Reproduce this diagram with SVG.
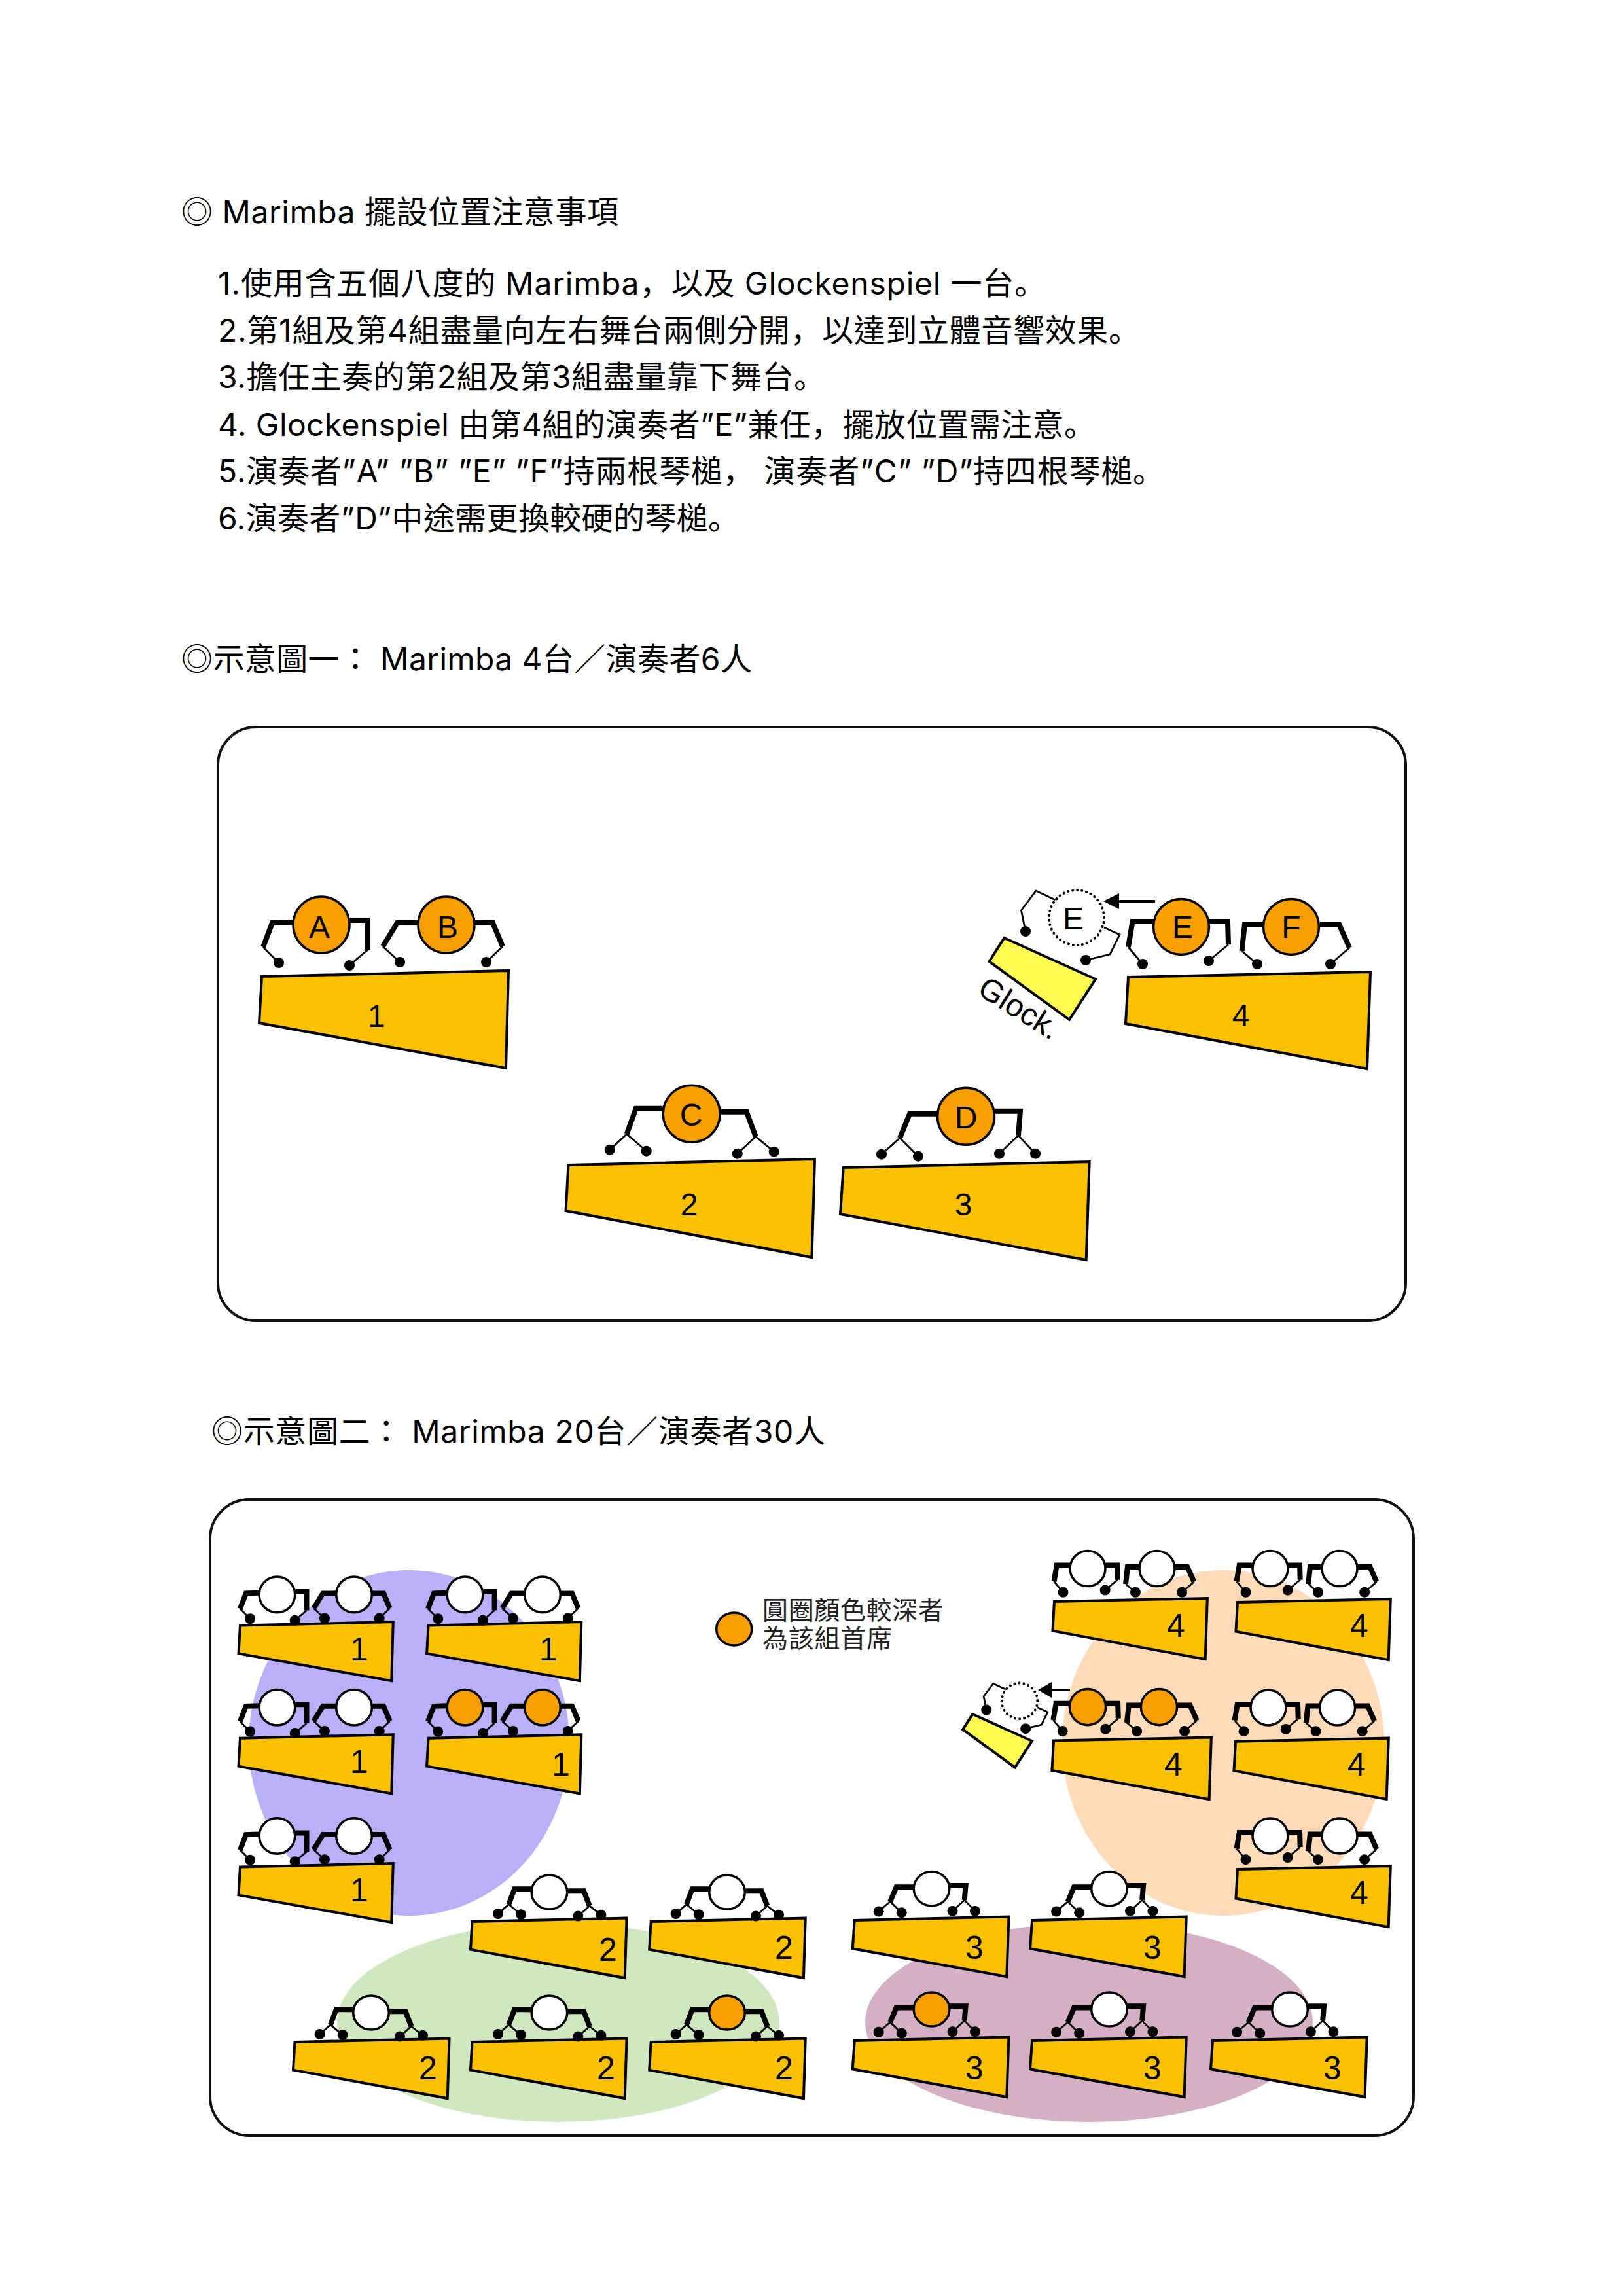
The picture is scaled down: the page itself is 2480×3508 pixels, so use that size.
<svg xmlns="http://www.w3.org/2000/svg" width="2480" height="3508" viewBox="0 0 2480 3508">
<style>
.t{font-family:Inter,"Noto Sans CJK TC",sans-serif;font-size:48px;fill:#000}
.j{font-family:"Noto Sans CJK JP",sans-serif}
.lg{font-family:"Noto Sans CJK TC",sans-serif;font-size:39px;fill:#222}
.n{font-family:"Liberation Sans",Arial,sans-serif;font-size:50px;fill:#000;text-anchor:middle}
.frame{fill:none;stroke:#111;stroke-width:4}
.mar{fill:#FAC002;stroke:#000;stroke-width:4;stroke-linejoin:miter;vector-effect:non-scaling-stroke}
.glk{fill:#FDFB50;stroke:#000;stroke-width:4;vector-effect:non-scaling-stroke}
.head{stroke:#000;stroke-width:3.5;vector-effect:non-scaling-stroke}
.thick{fill:none;stroke:#000;stroke-width:8;stroke-linejoin:miter;vector-effect:non-scaling-stroke}
.thin{fill:none;stroke:#000;stroke-width:2.8;vector-effect:non-scaling-stroke}
.dot{fill:none;stroke:#000;stroke-width:16;stroke-linecap:round;vector-effect:non-scaling-stroke}
.dotc{fill:#fff;stroke:#000;stroke-width:4;stroke-dasharray:0.1 7;stroke-linecap:round;vector-effect:non-scaling-stroke}
.w{fill:#fff}
.o{fill:#F79F00}
.arr{fill:none;stroke:#000;stroke-width:4}
</style>
<defs>
<marker id="ah" markerUnits="userSpaceOnUse" markerWidth="24" markerHeight="26" refX="1" refY="13" orient="auto" viewBox="0 0 24 26"><path d="M24,1 L0,13 L24,25 Z" transform="rotate(180 12 13)" fill="#000"/></marker>
<marker id="ahs" markerUnits="userSpaceOnUse" markerWidth="21" markerHeight="24" refX="1" refY="12" orient="auto" viewBox="0 0 21 24"><path d="M21,0 L0,12 L21,24 Z" transform="rotate(180 10.5 12)" fill="#000"/></marker>
<polygon id="m1" class="mar" points="0,0 377,-9 373,140 -4,71"/>
<polygon id="m4" class="mar" points="0,0 370,-8 365,140 -4,71"/>
<polygon id="m2" class="mar" points="0,0 376.5,-9 372,141 -4,70"/>
<polygon id="m3" class="mar" points="0,0 376,-9 371,141 -4.7,71"/>
<g id="pA">
<path class="thick" d="M-44,-4 L-75,-3 L-89,34"/><path class="thin" d="M-89,34 L-65,58"/><path class="dot" d="M-65,58 h0.01"/>
<path class="thick" d="M44,-7 L71,-7 L71,38"/><path class="thin" d="M71,38 L43,62"/><path class="dot" d="M43,62 h0.01"/>
<circle class="head" r="43"/></g>
<g id="pB">
<path class="thick" d="M-44,-3 L-75,-3 L-97,33"/><path class="thin" d="M-97,33 L-71,57"/><path class="dot" d="M-71,57 h0.01"/>
<path class="thick" d="M43,-3 L71,-3 L86,33"/><path class="thin" d="M86,33 L61,57"/><path class="dot" d="M61,57 h0.01"/>
<circle class="head" r="43"/></g>
<g id="pE">
<path class="thick" d="M-42,-8 L-74.5,-8 L-81,31"/><path class="thin" d="M-81,31 L-59,57"/><path class="dot" d="M-59,57 h0.01"/>
<path class="thick" d="M43,-8 L71,-8 L72,27"/><path class="thin" d="M72,27 L42,52"/><path class="dot" d="M42,52 h0.01"/>
<circle class="head" r="42.5"/></g>
<g id="pF">
<path class="thick" d="M-43,-4 L-71,-4 L-75.5,37"/><path class="thin" d="M-75.5,37 L-52,57"/><path class="dot" d="M-52,57 h0.01"/>
<path class="thick" d="M44,-4 L73,-4 L89,32"/><path class="thin" d="M89,32 L60,57"/><path class="dot" d="M60,57 h0.01"/>
<circle class="head" r="42.5"/></g>
<g id="pC">
<path class="thick" d="M-44,-8 L-85,-8 L-99,31"/><path class="thin" d="M-125,55 L-99,31 L-69,57"/><path class="dot" d="M-125,55 h0.01"/><path class="dot" d="M-69,57 h0.01"/>
<path class="thick" d="M45,-3 L84,-3 L98,35"/><path class="thin" d="M70,61 L98,35 L126,58"/><path class="dot" d="M70,61 h0.01"/><path class="dot" d="M126,58 h0.01"/>
<circle class="head" r="43.5"/></g>
<g id="pD">
<path class="thick" d="M-44,-4 L-86,-4 L-101,33"/><path class="thin" d="M-129,58 L-101,33 L-73,61"/><path class="dot" d="M-129,58 h0.01"/><path class="dot" d="M-73,61 h0.01"/>
<path class="thick" d="M44,-8 L83,-8 L80,29"/><path class="thin" d="M51,57 L80,29 L106,57"/><path class="dot" d="M51,57 h0.01"/><path class="dot" d="M106,57 h0.01"/>
<circle class="head" r="43.5"/></g>
<g id="pDot">
<path class="thin" d="M-192.4,-41 L-222,-55 L-244.5,-25 L-238,7"/><path class="dot" d="M-238,7 h0.01"/>
<path class="thin" d="M-118,1 L-94,12 L-109,42 L-146,51"/><path class="dot" d="M-146,51 h0.01"/>
<circle class="dotc" cx="-160" cy="-14" r="42"/></g>
<polygon id="gk" class="glk" points="-270.5,17 -131,80 -171,142 -293.5,53"/>
</defs>

<rect width="2480" height="3508" fill="#fff"/>

<g id="heading">
<text class="t" x="277" y="341" textLength="668">◎ Marimba 擺設位置注意事項</text>
<text class="t" x="333" y="450" textLength="1265">1.使用含五個八度的 Marimba<tspan class="j">，</tspan>以及 Glockenspiel 一台<tspan class="j">。</tspan></text>
<text class="t" x="333" y="522" textLength="1409">2.第1組及第4組盡量向左右舞台兩側分開<tspan class="j">，</tspan>以達到立體音響效果<tspan class="j">。</tspan></text>
<text class="t" x="333" y="593" textLength="928">3.擔任主奏的第2組及第3組盡量靠下舞台<tspan class="j">。</tspan></text>
<text class="t" x="333" y="666" textLength="1341">4. Glockenspiel 由第4組的演奏者”E”兼任<tspan class="j">，</tspan>擺放位置需注意<tspan class="j">。</tspan></text>
<text class="t" x="333" y="737" textLength="1446">5.演奏者”A” ”B” ”E” ”F”持兩根琴槌<tspan class="j">，</tspan> 演奏者”C” ”D”持四根琴槌<tspan class="j">。</tspan></text>
<text class="t" x="333" y="809" textLength="797">6.演奏者”D”中途需更換較硬的琴槌<tspan class="j">。</tspan></text>
<text class="t" x="277" y="1024" textLength="872">◎示意圖一<tspan class="j">：</tspan> Marimba 4台／演奏者6人</text>
<text class="t" x="323" y="2204" textLength="938">◎示意圖二<tspan class="j">：</tspan> Marimba 20台／演奏者30人</text>
</g>

<rect id="frame1" class="frame" x="333" y="1111" width="1815" height="907" rx="58"/>
<rect id="frame2" class="frame" x="321" y="2291" width="1839" height="972" rx="60"/>

<g id="zones">
<ellipse cx="625" cy="2663" rx="245" ry="264" fill="#B9B0F9"/>
<ellipse cx="1869" cy="2663" rx="246" ry="264" fill="#FDDBB9"/>
<ellipse cx="853" cy="3090" rx="338" ry="152" fill="#CFE8C0"/>
<ellipse cx="1664" cy="3090" rx="342" ry="152" fill="#D5AFC4"/>
</g>

<g id="connectors">
<path class="arr" d="M1765,1377 H1709" marker-end="url(#ah)"/>
<path class="arr" d="M1635,2582 H1606" marker-end="url(#ahs)"/>
</g>

<g id="fig1-group1">
<use href="#m1" transform="translate(400,1492)"/>
<use href="#pA" class="o" transform="translate(491,1413)"/>
<use href="#pB" class="o" transform="translate(682,1413)"/>
<text class="n" style="font-size:48px" x="488" y="1433">A</text>
<text class="n" style="font-size:48px" x="684" y="1433">B</text>
<text class="n" style="font-size:48px" x="575" y="1569">1</text>
</g>
<g id="fig1-group4">
<use href="#m4" transform="translate(1724,1493)"/>
<use href="#gk" transform="translate(1805,1416)"/>
<use href="#pDot" transform="translate(1805,1416)"/>
<use href="#pE" class="o" transform="translate(1805,1416)"/>
<use href="#pF" class="o" transform="translate(1973,1416)"/>
<text class="n" style="font-size:48px" x="1640" y="1420">E</text>
<text class="n" style="font-size:48px" x="1807" y="1433">E</text>
<text class="n" style="font-size:48px" x="1973" y="1433">F</text>
<text class="n" style="font-size:48px" x="1896" y="1568">4</text>
<text class="n" style="font-size:48px" transform="translate(1549,1554) rotate(32)">Glock.</text>
</g>
<g id="fig1-group2">
<use href="#m2" transform="translate(868.5,1780)"/>
<use href="#pC" class="o" transform="translate(1056.7,1701.7)"/>
<text class="n" style="font-size:48px" x="1056" y="1720">C</text>
<text class="n" style="font-size:48px" x="1053" y="1857">2</text>
</g>
<g id="fig1-group3">
<use href="#m3" transform="translate(1288.7,1784)"/>
<use href="#pD" class="o" transform="translate(1476,1705.7)"/>
<text class="n" style="font-size:48px" x="1476" y="1724">D</text>
<text class="n" style="font-size:48px" x="1472" y="1857">3</text>
</g>

<g id="legend">
<ellipse class="head" cx="1121.7" cy="2489" rx="27" ry="25" fill="#F79F00"/>
<text class="lg" x="1165" y="2474" textLength="277">圓圈顏色較深者</text>
<text class="lg" x="1165" y="2517" textLength="198">為該組首席</text>
</g>

<g id="fig2-group1">
<g id="g1a"><use href="#m1" transform="translate(367,2483.5) scale(.62,.605)"/><use href="#pA" class="w" transform="translate(423.4,2436.4) scale(.635)"/><use href="#pB" class="w" transform="translate(541,2436.4) scale(.635)"/><text class="n" x="549" y="2537">1</text></g>
<g id="g1b"><use href="#m1" transform="translate(654.6,2483.5) scale(.62,.605)"/><use href="#pA" class="w" transform="translate(710.5,2436.4) scale(.635)"/><use href="#pB" class="w" transform="translate(829,2436.4) scale(.635)"/><text class="n" x="838" y="2537">1</text></g>
<g id="g1c"><use href="#m1" transform="translate(367,2655.7) scale(.62,.605)"/><use href="#pA" class="w" transform="translate(423.4,2608.7) scale(.635)"/><use href="#pB" class="w" transform="translate(541,2608.7) scale(.635)"/><text class="n" x="549" y="2709">1</text></g>
<g id="g1d"><use href="#m1" transform="translate(654.6,2655.7) scale(.62,.605)"/><use href="#pA" class="o" transform="translate(710.5,2608.7) scale(.635)"/><use href="#pB" class="o" transform="translate(829,2608.7) scale(.635)"/><text class="n" x="857" y="2713">1</text></g>
<g id="g1e"><use href="#m1" transform="translate(367,2852.5) scale(.62,.605)"/><use href="#pA" class="w" transform="translate(423.4,2805) scale(.635)"/><use href="#pB" class="w" transform="translate(541,2805) scale(.635)"/><text class="n" x="549" y="2905">1</text></g>
</g>

<g id="fig2-group4">
<g id="g4a"><use href="#m4" transform="translate(1611,2447) scale(.632,.63)"/><use href="#pE" class="w" transform="translate(1662,2396.6) scale(.635)"/><use href="#pF" class="w" transform="translate(1768,2396.6) scale(.635)"/><text class="n" x="1797" y="2501">4</text></g>
<g id="g4b"><use href="#m4" transform="translate(1891,2448) scale(.632,.63)"/><use href="#pE" class="w" transform="translate(1941,2396.6) scale(.635)"/><use href="#pF" class="w" transform="translate(2047,2396.6) scale(.635)"/><text class="n" x="2077" y="2501">4</text></g>
<g id="g4c">
<use href="#gk" transform="translate(1662,2608) scale(.65)"/>
<use href="#pDot" transform="translate(1662,2608) scale(.65)"/>
<use href="#m4" transform="translate(1610,2659.6) scale(.651,.64)"/><use href="#pE" class="o" transform="translate(1662,2608) scale(.65)"/><use href="#pF" class="o" transform="translate(1771,2608) scale(.65)"/><text class="n" x="1793" y="2713">4</text></g>
<g id="g4d"><use href="#m4" transform="translate(1888,2660.7) scale(.632,.63)"/><use href="#pE" class="w" transform="translate(1938,2609) scale(.635)"/><use href="#pF" class="w" transform="translate(2043.6,2609) scale(.635)"/><text class="n" x="2073" y="2713">4</text></g>
<g id="g4e"><use href="#m4" transform="translate(1891,2856) scale(.632,.63)"/><use href="#pE" class="w" transform="translate(1941,2805) scale(.635)"/><use href="#pF" class="w" transform="translate(2047,2805) scale(.635)"/><text class="n" x="2077" y="2909">4</text></g>
</g>

<g id="fig2-group2">
<g id="g2a"><use href="#m2" transform="translate(721.5,2936) scale(.627,.61)"/><use href="#pC" class="w" transform="translate(839.4,2891) scale(.627,.6)"/><text class="n" x="929" y="2996">2</text></g>
<g id="g2b"><use href="#m2" transform="translate(994.7,2936) scale(.627,.61)"/><use href="#pC" class="w" transform="translate(1111,2891) scale(.627,.6)"/><text class="n" x="1198" y="2993">2</text></g>
<g id="g2c"><use href="#m2" transform="translate(450.5,3120) scale(.627,.61)"/><use href="#pC" class="w" transform="translate(567,3075) scale(.627,.6)"/><text class="n" x="654" y="3177">2</text></g>
<g id="g2d"><use href="#m2" transform="translate(721.5,3120) scale(.627,.61)"/><use href="#pC" class="w" transform="translate(839.4,3075) scale(.627,.6)"/><text class="n" x="926" y="3177">2</text></g>
<g id="g2e"><use href="#m2" transform="translate(994.7,3120) scale(.627,.61)"/><use href="#pC" class="o" transform="translate(1111,3075) scale(.627,.6)"/><text class="n" x="1198" y="3177">2</text></g>
</g>

<g id="fig2-group3">
<g id="g3a"><use href="#m3" transform="translate(1305.7,2934) scale(.627,.61)"/><use href="#pD" class="w" transform="translate(1423.5,2885.7) scale(.627,.6)"/><text class="n" x="1489" y="2993">3</text></g>
<g id="g3b"><use href="#m3" transform="translate(1577,2934) scale(.627,.61)"/><use href="#pD" class="w" transform="translate(1695,2885.7) scale(.627,.6)"/><text class="n" x="1761" y="2993">3</text></g>
<g id="g3c"><use href="#m3" transform="translate(1305.7,3118) scale(.627,.61)"/><use href="#pD" class="o" transform="translate(1423.5,3070) scale(.627,.6)"/><text class="n" x="1489" y="3177">3</text></g>
<g id="g3d"><use href="#m3" transform="translate(1577,3118) scale(.627,.61)"/><use href="#pD" class="w" transform="translate(1695,3070) scale(.627,.6)"/><text class="n" x="1761" y="3177">3</text></g>
<g id="g3e"><use href="#m3" transform="translate(1853,3118) scale(.627,.61)"/><use href="#pD" class="w" transform="translate(1971,3070) scale(.627,.6)"/><text class="n" x="2036" y="3177">3</text></g>
</g>
</svg>
